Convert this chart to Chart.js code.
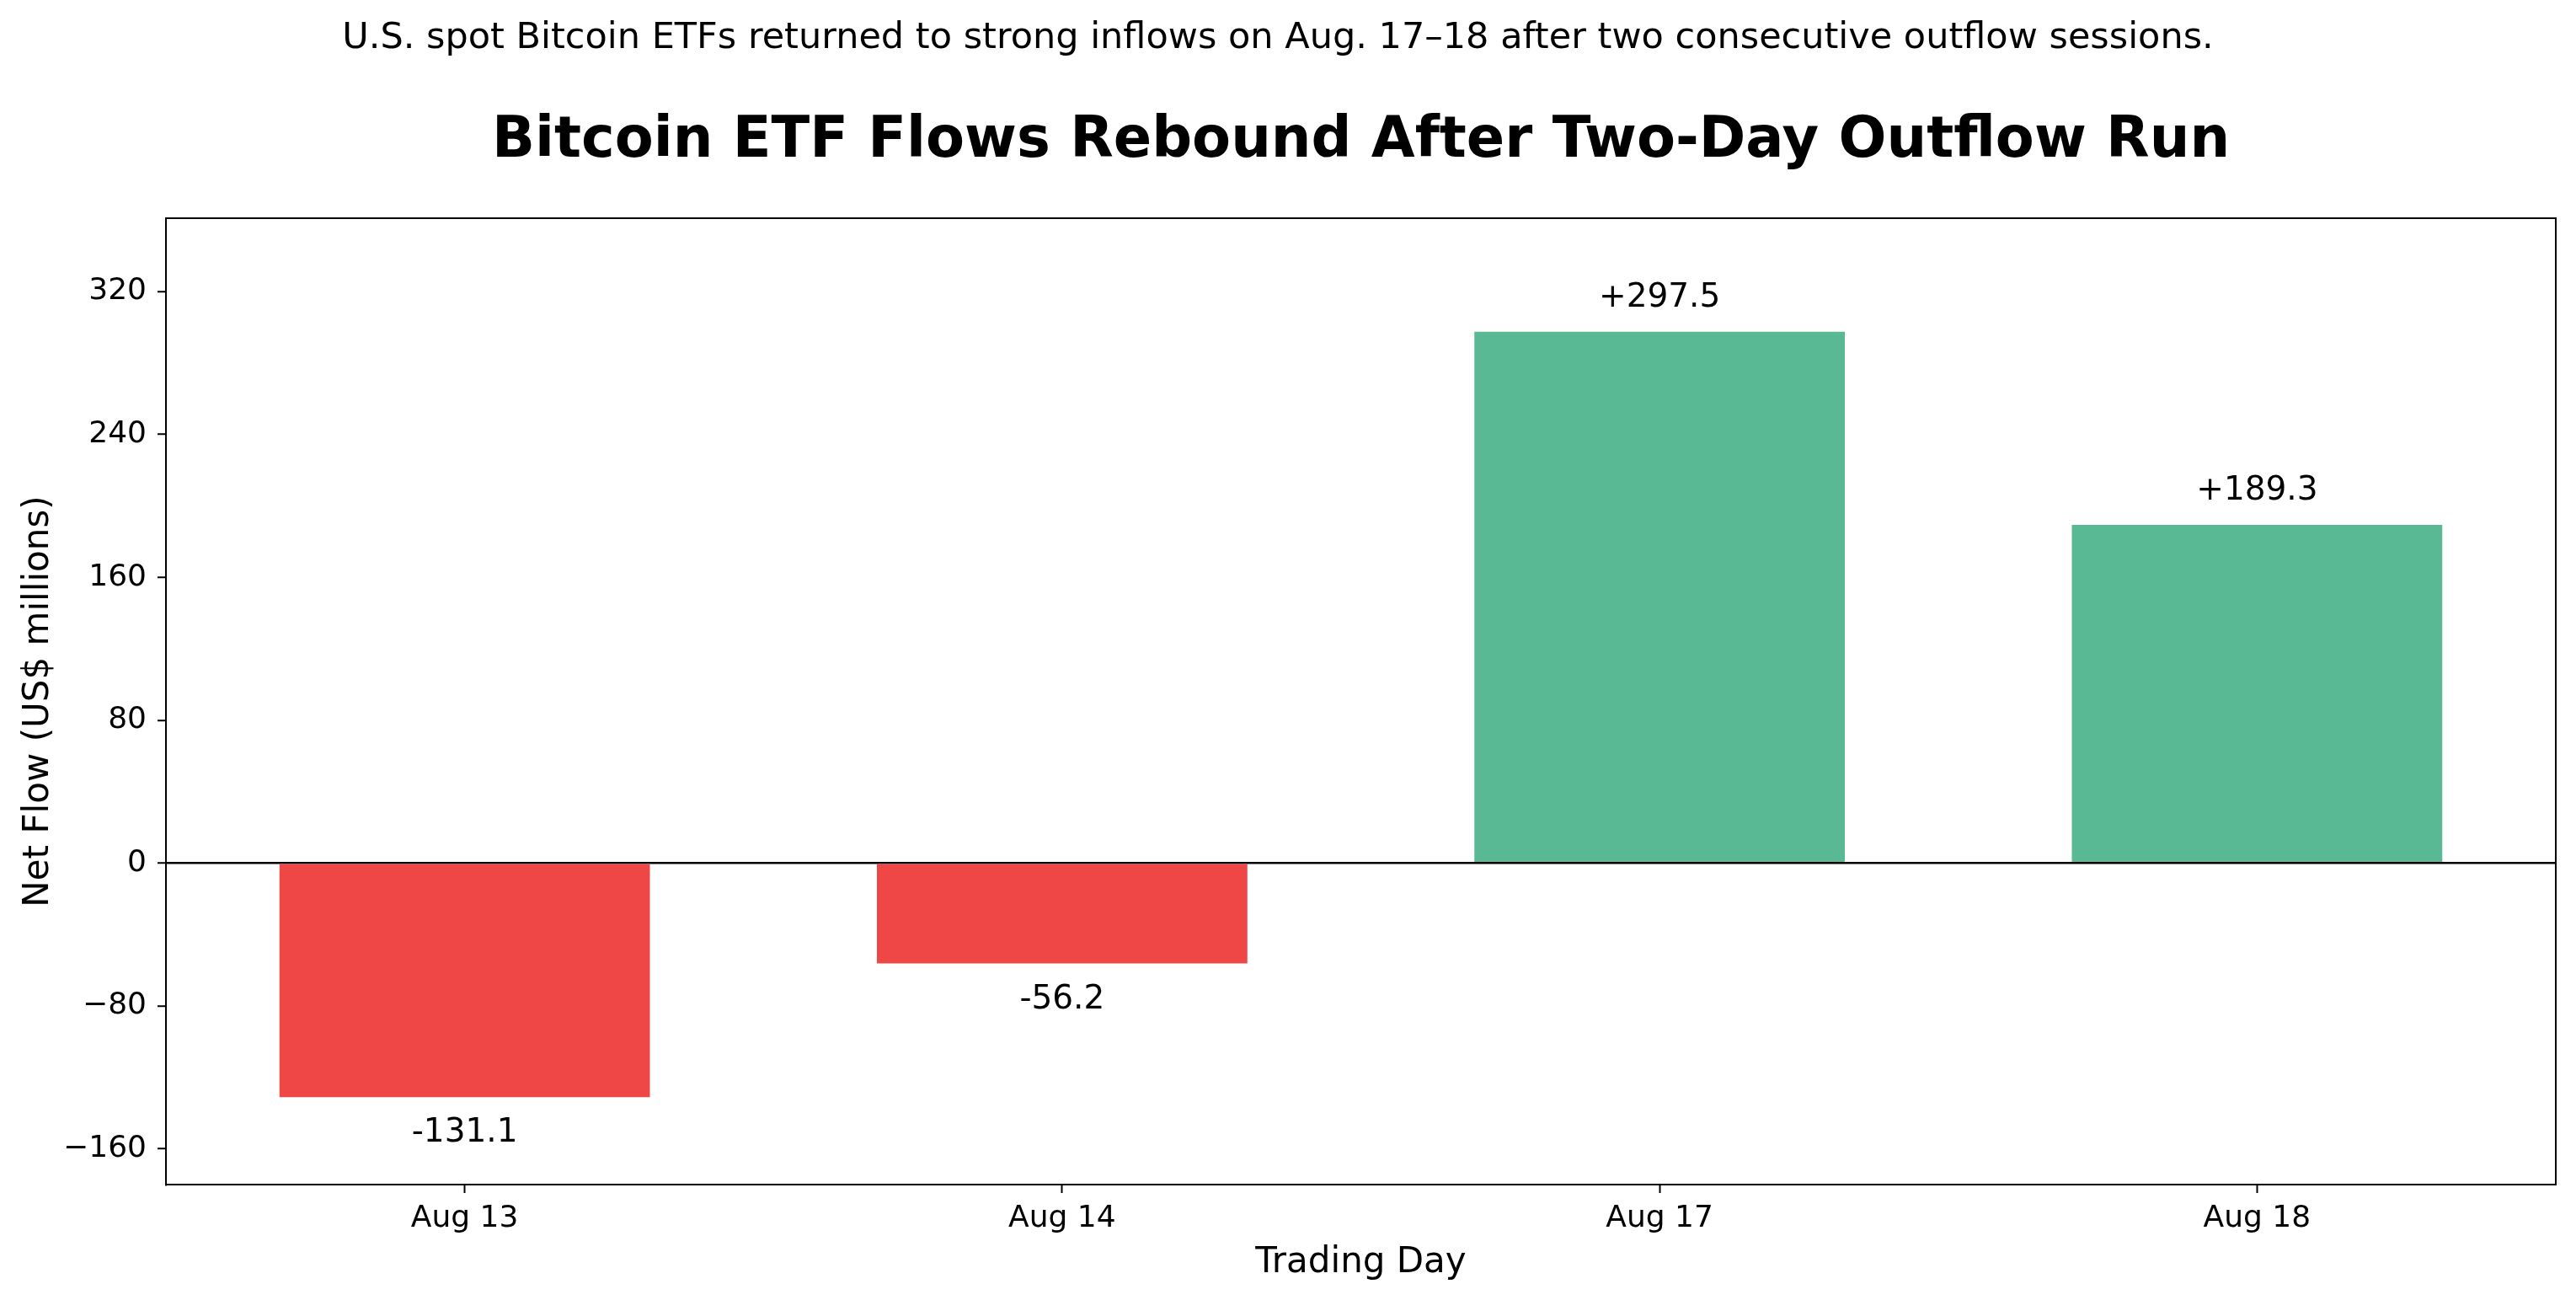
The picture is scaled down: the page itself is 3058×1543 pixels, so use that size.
<!DOCTYPE html>
<html>
<head>
<meta charset="utf-8">
<script src="https://cdn.jsdelivr.net/npm/chart.js@4.4.1/dist/chart.umd.min.js"></script>
<style>
  html, body { margin: 0; padding: 0; background: #fff; }
  canvas { display: block; }
</style>
</head>
<body>
<canvas id="flows" width="3058" height="1543" style="width:3058px;height:1543px"></canvas>
<script>
// trading days and net flows (US$ millions)
const days = ["Aug 13", "Aug 14", "Aug 17", "Aug 18"];
const netFlows = [-131.1, -56.2, 297.5, 189.3];
const yTickValues = [-160, -80, 0, 80, 160, 240, 320];

const inflowColor = "#58B994";
const outflowColor = "#EF4646";
const font = "DejaVu Sans";

// frame around the plot area (matplotlib style box)
const framePlugin = {
  id: "frame",
  afterDraw(chart) {
    const { ctx, chartArea } = chart;
    ctx.save();
    ctx.strokeStyle = "#000";
    ctx.lineWidth = 2;
    ctx.strokeRect(chartArea.left, chartArea.top, chartArea.right - chartArea.left, chartArea.bottom - chartArea.top);
    ctx.restore();
  }
};

// value labels above / below each bar
const valueLabels = {
  id: "valueLabels",
  afterDatasetsDraw(chart) {
    const { ctx } = chart;
    const meta = chart.getDatasetMeta(0);
    ctx.save();
    ctx.font = "39px '" + font + "'";
    ctx.fillStyle = "#000";
    ctx.textAlign = "center";
    ctx.textBaseline = "alphabetic";
    meta.data.forEach((bar, i) => {
      const v = netFlows[i];
      const txt = (v > 0 ? "+" : "") + v.toFixed(1);
      const y = v >= 0 ? bar.y - 30 : bar.y + 53;
      ctx.fillText(txt, bar.x, y);
    });
    ctx.restore();
  }
};

const ctx = document.getElementById("flows").getContext("2d");

new Chart(ctx, {
  type: "bar",
  data: {
    labels: days,
    datasets: [
      {
        data: netFlows,
        backgroundColor: netFlows.map((v) => (v >= 0 ? inflowColor : outflowColor)),
        borderWidth: 0,
        barPercentage: 0.62,
        categoryPercentage: 1.0,
      },
    ],
  },
  options: {
    responsive: false,
    animation: false,
    devicePixelRatio: 1,
    layout: { padding: { left: 0, right: 24, top: 0, bottom: 0 } },
    plugins: {
      legend: { display: false },
      tooltip: { enabled: false },
      title: {
        display: true,
        text: "U.S. spot Bitcoin ETFs returned to strong inflows on Aug. 17\u201318 after two consecutive outflow sessions.",
        color: "#000",
        font: { family: font, size: 43, weight: "normal" },
        padding: { top: 20, bottom: 0 },
      },
      subtitle: {
        display: true,
        fullSize: false,
        text: "Bitcoin ETF Flows Rebound After Two-Day Outflow Run",
        color: "#000",
        font: { family: font, size: 67, weight: "bold" },
        padding: { top: 57, bottom: 50 },
      },
    },
    scales: {
      x: {
        grid: {
          offset: false,
          drawOnChartArea: false,
          drawTicks: true,
          tickLength: 10,
          tickColor: "#000",
          tickWidth: 2,
        },
        border: { display: true, color: "#000", width: 2 },
        ticks: {
          color: "#000",
          font: { family: font, size: 36 },
          padding: 9,
        },
        title: {
          display: true,
          text: "Trading Day",
          color: "#000",
          font: { family: font, size: 42 },
          padding: { top: 0, bottom: 19 },
        },
        afterFit(scale) {
          scale.height = 137;
        },
      },
      y: {
        min: -180,
        max: 361,
        afterBuildTicks(scale) {
          scale.ticks = yTickValues.map((v) => ({ value: v }));
        },
        grid: {
          drawOnChartArea: true,
          color: (c) => (c.tick && c.tick.value === 0 ? "#000" : "rgba(0,0,0,0)"),
          lineWidth: 2.5,
          drawTicks: true,
          tickLength: 10,
          tickColor: "#000",
          tickWidth: 2,
        },
        border: { display: true, color: "#000", width: 2 },
        ticks: {
          color: "#000",
          font: { family: font, size: 36 },
          padding: 13,
          callback: (v) => (v < 0 ? "\u2212" + Math.abs(v) : String(v)),
        },
        title: {
          display: true,
          text: "Net Flow (US$ millions)",
          color: "#000",
          font: { family: font, size: 42 },
          padding: { top: 21, bottom: 0 },
        },
        afterFit(scale) {
          scale.width = 197;
        },
      },
    },
  },
  plugins: [framePlugin, valueLabels],
});
</script>
</body>
</html>
